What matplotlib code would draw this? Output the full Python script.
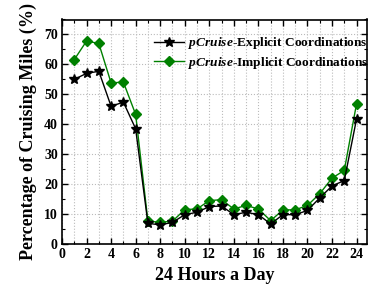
import matplotlib
matplotlib.use("Agg")
import matplotlib.pyplot as plt
from matplotlib.ticker import MultipleLocator

hours = list(range(1, 25))
explicit = [55, 57, 57.7, 46, 47.4, 38.5, 6.9, 6.4, 7.2, 9.8, 10.6, 12.5, 12.7, 9.8, 10.6,
            9.8, 6.7, 9.8, 9.8, 11.2, 15.4, 19.4, 21.2, 41.8]
implicit = [61.6, 67.8, 67, 53.8, 54.1, 43.3, 7.6, 7.3, 7.6, 11.5, 11.7, 14.5, 14.8, 11.7, 12.9,
            11.7, 7.8, 11.4, 11.4, 12.9, 16.8, 22, 24.6, 46.9]
labels = [r"$\it{pCruise}$-Explicit Coordinations", r"$\it{pCruise}$-Implicit Coordinations"]
xticks = list(range(0, 25, 2))
yticks = list(range(0, 80, 10))

plt.rcParams['font.family'] = 'Liberation Serif'
plt.rcParams['font.weight'] = 'bold'
plt.rcParams['mathtext.fontset'] = 'custom'
plt.rcParams['mathtext.it'] = 'Liberation Serif:italic:bold'
plt.rcParams['mathtext.rm'] = 'Liberation Serif:bold'

fig = plt.figure(figsize=(3.68, 2.86), dpi=100)
ax = fig.add_axes([62/368, 1-244/286, (367-62)/368, (244-19.5)/286])

ax.plot(hours, explicit, color='black', marker='*', markersize=7, linewidth=1, label=labels[0], zorder=3)
ax.plot(hours, implicit, color='#008000', marker='D', markersize=5.5, linewidth=1, label=labels[1], zorder=2)

ax.set_xlim(0, 24.85)
ax.set_ylim(0, 75)
ax.set_xticks(xticks)
ax.set_yticks(yticks)
ax.xaxis.set_minor_locator(MultipleLocator(1))
ax.yaxis.set_minor_locator(MultipleLocator(5))
ax.tick_params(which='both', direction='in', top=True, right=True, labelsize=10, pad=3)
ax.tick_params(which='major', length=4, width=1)
ax.tick_params(which='minor', length=2.5, width=0.8)
ax.grid(True, which='major', axis='y', linestyle=':', color='#bbbbbb', linewidth=0.8)
ax.grid(True, which='both', axis='x', linestyle=':', color='#bbbbbb', linewidth=0.8)
for s in ax.spines.values():
    s.set_linewidth(1.2)
for lab in ax.get_xticklabels() + ax.get_yticklabels():
    lab.set_fontweight('bold')

ax.set_xlabel('24 Hours a Day', fontsize=13, fontweight='bold', labelpad=4)
ax.set_ylabel('Percentage of Cruising Miles (%)', fontsize=13, fontweight='bold', labelpad=5)

leg = ax.legend(loc='upper right', bbox_to_anchor=(1.03, 0.965), frameon=False,
                prop={'size': 9.6, 'weight': 'bold'}, handlelength=2.2, handletextpad=0.3,
                labelspacing=0.25, borderaxespad=0.2)

fig.savefig('out.png', dpi=100)
